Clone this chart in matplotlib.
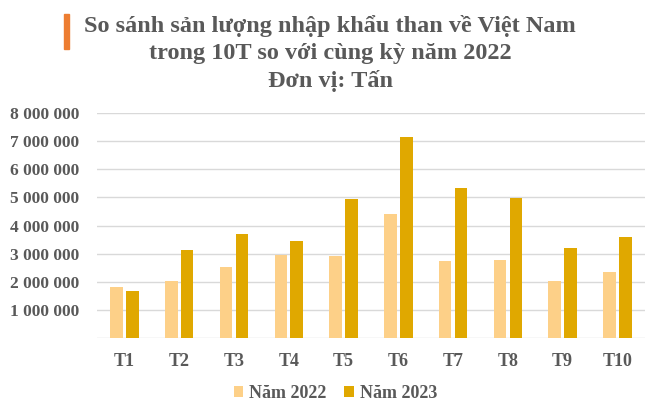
import matplotlib
matplotlib.use("Agg")
import matplotlib.pyplot as plt
import numpy as np
from matplotlib.patches import Rectangle

categories = ["T1", "T2", "T3", "T4", "T5", "T6", "T7", "T8", "T9", "T10"]
values_2022 = [1800000, 2030000, 2540000, 2960000, 2930000, 4410000, 2740000, 2770000, 2030000, 2350000]
values_2023 = [1670000, 3130000, 3710000, 3450000, 4940000, 7150000, 5330000, 4980000, 3210000, 3590000]
series_labels = ["Năm 2022", "Năm 2023"]
yticks = [1000000, 2000000, 3000000, 4000000, 5000000, 6000000, 7000000, 8000000]
ytick_labels = ["1 000 000", "2 000 000", "3 000 000", "4 000 000", "5 000 000", "6 000 000", "7 000 000", "8 000 000"]
title_lines = ["So sánh sản lượng nhập khẩu than về Việt Nam",
               "trong 10T so với cùng kỳ năm 2022",
               "Đơn vị: Tấn"]

c2022 = "#FDD088"
c2023 = "#E0A800"
txt = "#595959"
font = "Liberation Serif"

fig = plt.figure(figsize=(6.6, 4.13), dpi=100)
ax = fig.add_axes([0.147, 0.1816, 0.83, 0.5444])

x = np.arange(len(categories))
w = 0.23
off = 0.145
ax.bar(x - off, values_2022, width=w, color=c2022, label=series_labels[0], zorder=3)
ax.bar(x + off, values_2023, width=w, color=c2023, label=series_labels[1], zorder=3)

ax.set_xlim(-0.5, len(categories) - 0.5)
ax.set_ylim(0, 8000000)
ax.set_yticks(yticks)
ax.set_yticklabels(ytick_labels, fontfamily=font, fontweight="bold", fontsize=12.5, color=txt)
ax.set_xticks(x)
ax.set_xticklabels(categories, fontfamily=font, fontweight="bold", fontsize=13, color=txt)
ax.tick_params(axis="both", length=0)
ax.tick_params(axis="y", pad=13)
ax.tick_params(axis="x", pad=11)
for s in ax.spines.values():
    s.set_visible(False)
ax.yaxis.grid(True, color="#d9d9d9", linewidth=1, zorder=0)
ax.axhline(0, color="#d9d9d9", linewidth=1, zorder=1)
ax.set_axisbelow(True)

baselines_px = [32, 59.5, 87]
for line, by in zip(title_lines, baselines_px):
    fig.text(0.5, 1 - by / 413, line, ha="center", va="baseline", fontfamily=font,
             fontweight="bold", fontsize=17.5, color=txt)
fig.patches.append(Rectangle((64 / 660, 1 - 49 / 413), 4.5 / 660, 35 / 413,
                             transform=fig.transFigure, color="#ED7D31", figure=fig))

leg = ax.legend(loc="upper center", bbox_to_anchor=(0.435, -0.135), ncol=2, frameon=False,
                prop={"family": font, "weight": "bold", "size": 13}, handlelength=0.55,
                handleheight=0.55, handletextpad=0.3, columnspacing=1.0)
for t in leg.get_texts():
    t.set_color(txt)

fig.savefig("out.png", dpi=100)
